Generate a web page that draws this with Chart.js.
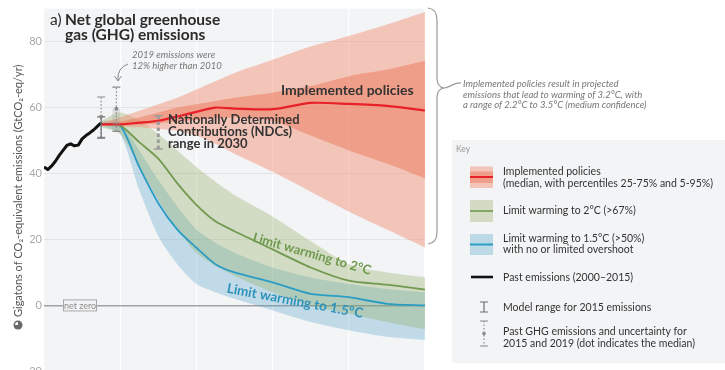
<!DOCTYPE html>
<html>
<head>
<meta charset="utf-8">
<script src="https://cdn.jsdelivr.net/npm/chart.js@4.4.1/dist/chart.umd.min.js"></script>
<style>
	html, body { margin: 0; padding: 0; background: #fff; overflow: hidden; }
	canvas { display: block; }
</style>
</head>
<body>
<canvas id="ghg" width="725" height="380"></canvas>
<script>
(() => {
	'use strict'

	// Past emissions (2000-2015), GtCO2-eq/yr
	const pastYears = [2000, 2001, 2002, 2003, 2004, 2005, 2006, 2007, 2008, 2009, 2010, 2011, 2012, 2013, 2014, 2015];
	const pastEmissions = [42, 41.2, 42.3, 43.7, 45.5, 47, 48.5, 49, 48.4, 48.6, 50.5, 51.5, 52.3, 53.2, 54.3, 55.4];

	// Scenario years
	const years = [2015, 2020, 2025, 2030, 2035, 2040, 2045, 2050, 2060, 2070, 2080, 2090, 2100];

	// Implemented policies
	const policyMedian = [54.9, 54.9, 55.4, 56, 57.3, 58.7, 60, 59.7, 59.5, 61.4, 61.1, 60.5, 59.1];
	const policyP25 = [54.6, 54.5, 54.8, 55.2, 55.8, 56.3, 56.8, 57, 56, 51.5, 47, 43, 38.5];
	const policyP75 = [55.2, 55.8, 57, 58.5, 60, 61, 62, 63, 64.5, 66.5, 69.5, 71.5, 74.2];
	const policyP5 = [54.5, 54.2, 54, 53.5, 53, 51.5, 49, 46, 40.5, 34.5, 28.5, 23, 17.6];
	const policyP95 = [55.5, 57, 59, 61, 63, 65.5, 68, 70.5, 74.5, 78.5, 81.7, 85.2, 89];

	// Limit warming to 2°C
	const twoMedian = [55, 54.5, 49.5, 44.5, 37, 30.5, 25.5, 22.5, 17, 11.5, 7.5, 6.3, 4.8];
	const twoUpper = [56, 58.5, 56, 52, 47, 42, 37.5, 33.5, 27, 19.5, 12.5, 10, 8.6];
	const twoLower = [54, 52, 42, 32, 23, 16, 12, 9, 4, 0, -2.5, -5, -7.2];

	// Limit warming to 1.5°C
	const oneFiveMedian = [55, 54.5, 42, 31, 23, 17.5, 12.5, 10, 7, 3.5, 2.5, 0.5, 0];
	const oneFiveUpper = [56, 55.5, 47, 38, 30, 23, 19, 16, 11.5, 8.5, 6.5, 5, 4];
	const oneFiveLower = [54.5, 52, 35, 21, 12.5, 6.5, 4, 2, -1.5, -5, -7.5, -9.5, -10.5];

	// Ranges shown as bars: [low, high] or [low, high, median]
	const modelRange2015 = [50.7, 57.2];
	const pastRange2015 = [51, 63.2, 57.2];
	const pastRange2019 = [52.8, 66.2, 59.6];
	const ndcRange2030 = [47.4, 57.5];

	// Axis ticks
	const yTicks = [-20, 0, 20, 40, 60, 80];
	const xGrid = [2000, 2020, 2040, 2060, 2080, 2100];

	const font = 'Lato, "Open Sans", sans-serif';
	Chart.defaults.font.family = font;

	function pts(xs, ys) {
		return xs.map((x, i) => ({ x: x, y: ys[i] }));
	}

	function line(values, color, width, order) {
		return {
			data: pts(years, values),
			borderColor: color,
			borderWidth: width,
			pointRadius: 0,
			fill: false,
			tension: 0.25,
			order: order
		};
	}

	function band(values, color, order, fill) {
		return {
			data: pts(years, values),
			borderWidth: 0,
			pointRadius: 0,
			backgroundColor: color,
			fill: fill,
			tension: 0.25,
			order: order
		};
	}

	function rangeBar(ctx, x, y1, y2, dashed, cap) {
		ctx.beginPath();
		ctx.setLineDash(dashed ? [1.5, 2] : []);
		ctx.moveTo(x, y1);
		ctx.lineTo(x, y2);
		ctx.stroke();
		ctx.setLineDash([]);
		ctx.beginPath();
		ctx.moveTo(x - cap, y1); ctx.lineTo(x + cap, y1);
		ctx.moveTo(x - cap, y2); ctx.lineTo(x + cap, y2);
		ctx.stroke();
	}

	function dot(ctx, x, y, r, color) {
		ctx.beginPath();
		ctx.arc(x, y, r, 0, Math.PI * 2);
		ctx.fillStyle = color;
		ctx.fill();
	}

	function rotatedText(ctx, text, x, y, deg, f, color) {
		ctx.save();
		ctx.translate(x, y);
		ctx.rotate(deg * Math.PI / 180);
		ctx.font = f;
		ctx.fillStyle = color;
		ctx.textAlign = 'center';
		ctx.textBaseline = 'middle';
		ctx.fillText(text, 0, 0);
		ctx.restore();
	}

	function lines(ctx, texts, x, y, step) {
		texts.forEach((t, i) => ctx.fillText(t, x, y + i * step));
	}

	const redLight = 'rgba(244,140,110,0.45)';
	const redDark = 'rgba(236,110,80,0.45)';
	const greenFill = 'rgba(140,170,90,0.32)';
	const blueFill = 'rgba(80,160,200,0.30)';

	const decorations = {
		id: 'decorations',
		beforeDraw(chart) {
			const { ctx, chartArea: a } = chart;
			ctx.save();
			ctx.fillStyle = '#ffffff';
			ctx.fillRect(0, 0, chart.width, chart.height);
			ctx.fillStyle = '#f3f4f6';
			ctx.fillRect(a.left, a.top, a.right - a.left, a.bottom - a.top);
			ctx.restore();
		},
		afterDatasetsDraw(chart) {
			const { ctx } = chart;
			const px = v => chart.scales.x.getPixelForValue(v);
			const py = v => chart.scales.y.getPixelForValue(v);
			ctx.save();

			// 2015 and 2019 ranges
			ctx.strokeStyle = '#8a8a8a';
			ctx.lineWidth = 1.2;
			rangeBar(ctx, px(2015), py(pastRange2015[0]), py(pastRange2015[1]), true, 4);
			ctx.strokeStyle = '#6f6f6f';
			rangeBar(ctx, px(2015), py(modelRange2015[0]), py(modelRange2015[1]), false, 4);
			dot(ctx, px(2015), py(pastRange2015[2]), 2, '#8a8a8a');

			ctx.fillStyle = 'rgba(150,150,150,0.25)';
			ctx.fillRect(px(2019) - 4, py(pastRange2019[2]), 8, py(pastRange2019[0]) - py(pastRange2019[2]));
			ctx.strokeStyle = '#8a8a8a';
			rangeBar(ctx, px(2019), py(pastRange2019[0]), py(pastRange2019[1]), true, 4);
			dot(ctx, px(2019), py(pastRange2019[2]), 2, '#8a8a8a');

			// NDC range in 2030
			ctx.strokeStyle = '#9c9c9c';
			ctx.lineWidth = 3;
			ctx.beginPath();
			ctx.setLineDash([3.5, 2.5]);
			ctx.moveTo(px(2030), py(ndcRange2030[0]));
			ctx.lineTo(px(2030), py(ndcRange2030[1]));
			ctx.stroke();
			ctx.setLineDash([]);
			ctx.lineWidth = 1.5;
			ctx.beginPath();
			ctx.moveTo(px(2030) - 4.5, py(ndcRange2030[0])); ctx.lineTo(px(2030) + 4.5, py(ndcRange2030[0]));
			ctx.moveTo(px(2030) - 4.5, py(ndcRange2030[1])); ctx.lineTo(px(2030) + 4.5, py(ndcRange2030[1]));
			ctx.stroke();

			// net zero tag
			const y0 = py(0);
			ctx.fillStyle = '#f3f4f6';
			ctx.strokeStyle = '#a8a8a8';
			ctx.lineWidth = 1;
			ctx.fillRect(63, y0 - 6, 34, 12);
			ctx.strokeRect(63.5, y0 - 5.5, 33, 11);
			ctx.fillStyle = '#8c8c8c';
			ctx.font = '9px ' + font;
			ctx.textAlign = 'center';
			ctx.textBaseline = 'middle';
			ctx.fillText('net zero', 80, y0 + 0.5);

			// labels on the chart
			ctx.textAlign = 'left';
			ctx.textBaseline = 'alphabetic';
			ctx.fillStyle = '#333333';
			ctx.font = 'bold 14px ' + font;
			ctx.fillText('Implemented policies', 281, 95);
			ctx.font = 'bold 13px ' + font;
			lines(ctx, ['Nationally Determined', 'Contributions (NDCs)', 'range in 2030'], 168, 124, 12);

			rotatedText(ctx, 'Limit warming to 2°C', 312, 254, 16, 'bold 13px ' + font, '#6f9a4e');
			rotatedText(ctx, 'Limit warming to 1.5°C', 295, 301, 10.6, 'bold 13.5px ' + font, '#2e93b9');

			// 2019 note with arrow
			ctx.fillStyle = '#777777';
			ctx.font = 'italic 9.5px ' + font;
			ctx.textAlign = 'left';
			lines(ctx, ['2019 emissions were', '12% higher than 2010'], 132, 58, 11);
			ctx.strokeStyle = '#888888';
			ctx.lineWidth = 1;
			ctx.beginPath();
			ctx.moveTo(128, 64);
			ctx.quadraticCurveTo(117, 68, 118, 80);
			ctx.moveTo(114.5, 76);
			ctx.lineTo(118, 81);
			ctx.lineTo(121.5, 76);
			ctx.stroke();

			ctx.restore();
		},
		afterDraw(chart) {
			const { ctx } = chart;
			ctx.save();

			// title
			ctx.fillStyle = '#2b2b2b';
			ctx.textAlign = 'left';
			ctx.font = '15.5px ' + font;
			ctx.fillText('a)', 50, 25);
			ctx.font = 'bold 15.5px ' + font;
			ctx.fillText('Net global greenhouse', 65, 25);
			ctx.fillText('gas (GHG) emissions', 65, 39.5);

			// y axis title
			ctx.save();
			ctx.translate(18, 317);
			ctx.rotate(-Math.PI / 2);
			ctx.font = '11px ' + font;
			ctx.fillStyle = '#555555';
			ctx.textBaseline = 'middle';
			ctx.fillText('Gigatons of CO\u2082-equivalent emissions (GtCO\u2082-eq/yr)', 0, 0);
			ctx.restore();
			dot(ctx, 18, 325, 4.5, '#6a6a6a');
			ctx.beginPath();
			ctx.moveTo(18, 325);
			ctx.arc(18, 325, 3, Math.PI, Math.PI * 1.5);
			ctx.closePath();
			ctx.fillStyle = '#ffffff';
			ctx.fill();

			// brace
			ctx.strokeStyle = '#9a9a9a';
			ctx.lineWidth = 1.2;
			ctx.beginPath();
			ctx.moveTo(428, 8);
			ctx.quadraticCurveTo(437, 9, 437, 20);
			ctx.lineTo(437, 78);
			ctx.quadraticCurveTo(437, 87, 444, 88);
			ctx.quadraticCurveTo(437, 89, 437, 98);
			ctx.lineTo(437, 232);
			ctx.quadraticCurveTo(437, 243, 428, 244);
			ctx.moveTo(444, 88);
			ctx.bezierCurveTo(450, 88, 453, 82, 461, 83);
			ctx.stroke();

			ctx.fillStyle = '#777777';
			ctx.font = 'italic 9.5px ' + font;
			lines(ctx, [
				'Implemented policies result in projected',
				'emissions that lead to warming of 3.2°C, with',
				'a range of 2.2°C to 3.5°C (medium confidence)'
			], 463, 87, 10.7);

			// key
			ctx.fillStyle = '#f3f4f6';
			ctx.fillRect(452, 140, 273, 223);
			ctx.fillStyle = '#9a9a9a';
			ctx.font = '8.5px ' + font;
			ctx.fillText('Key', 456, 152);

			ctx.fillStyle = redLight;
			ctx.fillRect(470, 166.5, 23, 21.5);
			ctx.fillStyle = redDark;
			ctx.fillRect(470, 171.5, 23, 11.5);
			ctx.strokeStyle = '#e8202a';
			ctx.lineWidth = 2;
			ctx.beginPath(); ctx.moveTo(470, 177); ctx.lineTo(493, 177); ctx.stroke();

			ctx.fillStyle = '#d3dcc3';
			ctx.fillRect(470, 200, 23, 22);
			ctx.strokeStyle = '#72994f';
			ctx.lineWidth = 1.6;
			ctx.beginPath(); ctx.moveTo(470, 211); ctx.lineTo(493, 211); ctx.stroke();

			ctx.fillStyle = '#bed9e6';
			ctx.fillRect(470, 234, 23, 21);
			ctx.strokeStyle = '#2b9cc4';
			ctx.lineWidth = 2;
			ctx.beginPath(); ctx.moveTo(470, 244.5); ctx.lineTo(493, 244.5); ctx.stroke();

			ctx.strokeStyle = '#111111';
			ctx.lineWidth = 2.6;
			ctx.beginPath(); ctx.moveTo(471, 277); ctx.lineTo(493, 277); ctx.stroke();

			ctx.strokeStyle = '#6f6f6f';
			ctx.lineWidth = 1.2;
			rangeBar(ctx, 484, 302, 312, false, 4);
			ctx.strokeStyle = '#8a8a8a';
			rangeBar(ctx, 484, 321, 346, true, 4);
			dot(ctx, 484, 333.5, 1.8, '#8a8a8a');

			ctx.fillStyle = '#333333';
			ctx.font = '10.5px ' + font;
			lines(ctx, ['Implemented policies', '(median, with percentiles 25-75% and 5-95%)'], 503, 175, 11.7);
			ctx.fillText('Limit warming to 2°C (>67%)', 503, 214);
			lines(ctx, ['Limit warming to 1.5°C (>50%)', 'with no or limited overshoot'], 503, 242, 11.3);
			ctx.fillText('Past emissions (2000\u20132015)', 503, 280.5);
			ctx.fillText('Model range for 2015 emissions', 503, 311);
			lines(ctx, ['Past GHG emissions and uncertainty for', '2015 and 2019 (dot indicates the median)'], 503, 335, 11.5);

			ctx.restore();
		}
	};

	const datasets = [
		{
			data: pts(pastYears, pastEmissions),
			borderColor: '#111111',
			borderWidth: 3,
			borderJoinStyle: 'round',
			pointRadius: 0,
			fill: false,
			tension: 0,
			order: 0
		},
		line(policyMedian, '#e8202a', 2.2, 1),
		line(twoMedian, '#72994f', 1.8, 2),
		line(oneFiveMedian, '#2b9cc4', 1.8, 3),
		band(policyP75, redDark, 6, '+1'),
		band(policyP25, redDark, 6, false),
		band(policyP95, redLight, 7, '+1'),
		band(policyP5, redLight, 7, false),
		band(twoUpper, greenFill, 8, '+1'),
		band(twoLower, greenFill, 8, false),
		band(oneFiveUpper, blueFill, 9, '+1'),
		band(oneFiveLower, blueFill, 9, false)
	];

	const chart = new Chart(document.getElementById('ghg'), {
		type: 'line',
		data: { datasets: datasets },
		options: {
			responsive: false,
			animation: false,
			devicePixelRatio: 1,
			layout: { padding: { left: 0, right: 300, top: 4, bottom: 7 } },
			plugins: {
				legend: { display: false },
				tooltip: { enabled: false },
				title: { display: false }
			},
			scales: {
				x: {
					type: 'linear',
					min: 2000,
					max: 2100,
					afterBuildTicks: s => { s.ticks = xGrid.map(v => ({ value: v })); },
					afterFit: s => { s.height = 0; },
					ticks: { display: false },
					border: { display: false },
					grid: { color: '#ffffff', lineWidth: 1.2, drawTicks: false }
				},
				y: {
					min: -20,
					max: 90,
					afterBuildTicks: s => { s.ticks = yTicks.map(v => ({ value: v })); },
					afterFit: s => { s.width = 44; },
					ticks: { color: '#a9a9a9', font: { size: 11 }, padding: 2 },
					border: { display: false },
					grid: {
						drawTicks: false,
						color: c => (c.tick && c.tick.value === 0) ? '#a2a2a2' : '#e2e4e7',
						lineWidth: c => (c.tick && c.tick.value === 0) ? 1.6 : 1
					}
				}
			}
		},
		plugins: [decorations]
	});
})()
</script>
</body>
</html>
